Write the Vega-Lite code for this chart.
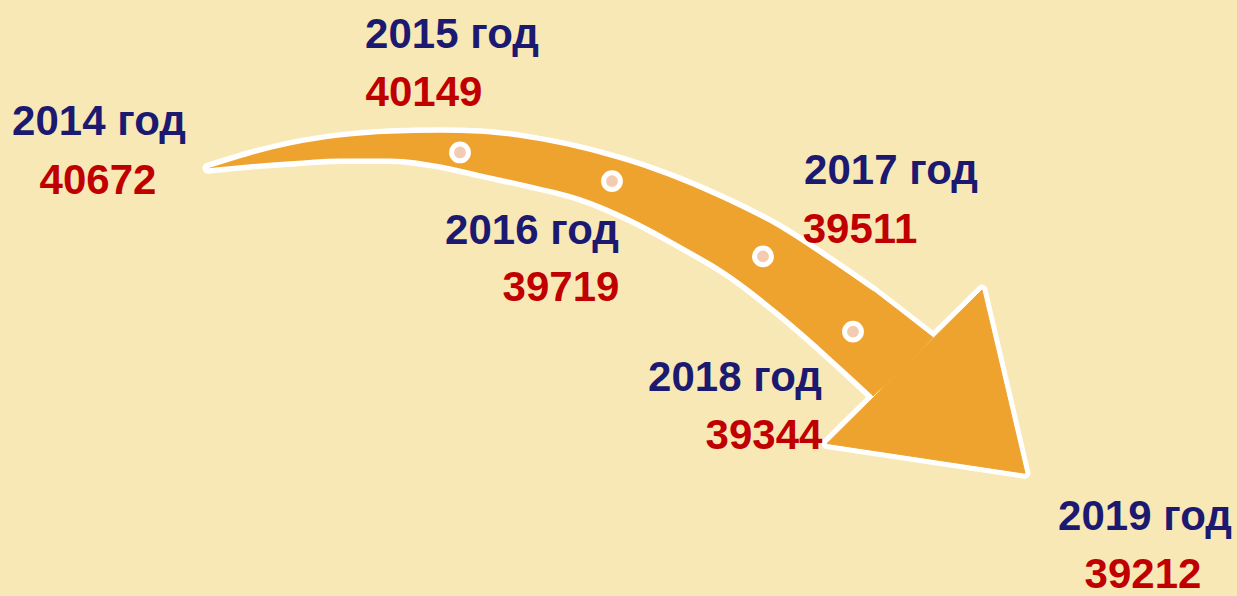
{
  "$schema": "https://vega.github.io/schema/vega-lite/v6.json",
  "width": 1237,
  "height": 596,
  "padding": 0,
  "autosize": {"type": "fit", "contains": "padding"},
  "background": "#f8e8b6",
  "config": {"view": {"stroke": null}},
  "datasets": {
    "labels": [
      {"label": "2014 год", "value": 40672, "lx": 99, "ly": 136, "vx": 98, "vy": 196},
      {"label": "2015 год", "value": 40149, "lx": 452, "ly": 48, "vx": 424, "vy": 107},
      {"label": "2016 год", "value": 39719, "lx": 532, "ly": 246, "vx": 561, "vy": 304},
      {"label": "2017 год", "value": 39511, "lx": 891, "ly": 186, "vx": 860, "vy": 245},
      {"label": "2018 год", "value": 39344, "lx": 735, "ly": 395, "vx": 764, "vy": 454},
      {"label": "2019 год", "value": 39212, "lx": 1145, "ly": 535, "vx": 1143, "vy": 594}
    ],
    "arrow": [
      {"part": "body", "x": 208, "top": 170, "bottom": 170},
      {"part": "body", "x": 250, "top": 157, "bottom": 166},
      {"part": "body", "x": 290, "top": 147, "bottom": 163},
      {"part": "body", "x": 340, "top": 139, "bottom": 160},
      {"part": "body", "x": 390, "top": 135, "bottom": 160},
      {"part": "body", "x": 440, "top": 134, "bottom": 166},
      {"part": "body", "x": 480, "top": 135, "bottom": 175},
      {"part": "body", "x": 530, "top": 141, "bottom": 186},
      {"part": "body", "x": 580, "top": 151, "bottom": 199},
      {"part": "body", "x": 630, "top": 165, "bottom": 220},
      {"part": "body", "x": 680, "top": 183, "bottom": 247},
      {"part": "body", "x": 730, "top": 205, "bottom": 277},
      {"part": "body", "x": 780, "top": 231, "bottom": 316},
      {"part": "body", "x": 830, "top": 264, "bottom": 360},
      {"part": "body", "x": 873, "top": 294, "bottom": 400},
      {"part": "neck", "x": 873, "top": 294, "bottom": 400},
      {"part": "neck", "x": 900, "top": 315, "bottom": 375},
      {"part": "neck", "x": 933, "top": 341, "bottom": 341},
      {"part": "head", "x": 827, "top": 448, "bottom": 448},
      {"part": "head", "x": 982, "top": 293, "bottom": 471.5},
      {"part": "head", "x": 1025, "top": 478, "bottom": 478}
    ],
    "dots": [
      {"year": 2015, "x": 460, "y": 154},
      {"year": 2016, "x": 612, "y": 183},
      {"year": 2017, "x": 763, "y": 259},
      {"year": 2018, "x": 853, "y": 335}
    ]
  },
  "layer": [
    {
      "data": {"name": "arrow"},
      "transform": [{"filter": "datum.part === 'body'"}],
      "mark": {"type": "area", "fill": "#ffffff", "stroke": "#ffffff", "strokeWidth": 11, "strokeJoin": "round", "interpolate": "monotone", "orient": "vertical"},
      "encoding": {
        "x": {"field": "x", "type": "quantitative", "scale": {"domain": [0, 1237], "nice": false, "zero": false}, "axis": null},
        "y": {"field": "top", "type": "quantitative", "scale": {"domain": [0, 596], "reverse": true, "nice": false, "zero": false}, "axis": null},
        "y2": {"field": "bottom"}
      }
    },
    {
      "data": {"name": "arrow"},
      "transform": [{"filter": "datum.part !== 'body'"}],
      "mark": {"type": "area", "fill": "#ffffff", "stroke": "#ffffff", "strokeWidth": 11, "strokeJoin": "round", "orient": "vertical"},
      "encoding": {
        "x": {"field": "x", "type": "quantitative", "scale": {"domain": [0, 1237], "nice": false, "zero": false}, "axis": null},
        "y": {"field": "top", "type": "quantitative", "scale": {"domain": [0, 596], "reverse": true, "nice": false, "zero": false}, "axis": null},
        "y2": {"field": "bottom"},
        "detail": {"field": "part"}
      }
    },
    {
      "data": {"name": "arrow"},
      "transform": [{"filter": "datum.part === 'body'"}],
      "mark": {"type": "area", "fill": "#efa32f", "interpolate": "monotone", "orient": "vertical"},
      "encoding": {
        "x": {"field": "x", "type": "quantitative", "scale": {"domain": [0, 1237], "nice": false, "zero": false}, "axis": null},
        "y": {"field": "top", "type": "quantitative", "scale": {"domain": [0, 596], "reverse": true, "nice": false, "zero": false}, "axis": null},
        "y2": {"field": "bottom"}
      }
    },
    {
      "data": {"name": "arrow"},
      "transform": [{"filter": "datum.part !== 'body'"}],
      "mark": {"type": "area", "fill": "#efa32f", "stroke": "#efa32f", "strokeWidth": 1, "orient": "vertical"},
      "encoding": {
        "x": {"field": "x", "type": "quantitative", "scale": {"domain": [0, 1237], "nice": false, "zero": false}, "axis": null},
        "y": {"field": "top", "type": "quantitative", "scale": {"domain": [0, 596], "reverse": true, "nice": false, "zero": false}, "axis": null},
        "y2": {"field": "bottom"},
        "detail": {"field": "part"}
      }
    },
    {
      "data": {"name": "dots"},
      "mark": {"type": "point", "shape": "circle", "filled": true, "fill": "#f3cbb0", "stroke": "#ffffff", "strokeWidth": 5, "size": 283, "opacity": 1},
      "encoding": {
        "x": {"field": "x", "type": "quantitative", "scale": {"domain": [0, 1237], "nice": false, "zero": false}, "axis": null},
        "y": {"field": "y", "type": "quantitative", "scale": {"domain": [0, 596], "reverse": true, "nice": false, "zero": false}, "axis": null}
      }
    },
    {
      "data": {"name": "labels"},
      "mark": {"type": "text", "font": "Liberation Sans", "fontWeight": "bold", "fontSize": 42, "align": "center", "baseline": "alphabetic", "fill": "#1b1a70"},
      "encoding": {
        "x": {"field": "lx", "type": "quantitative", "scale": {"domain": [0, 1237], "nice": false, "zero": false}, "axis": null},
        "y": {"field": "ly", "type": "quantitative", "scale": {"domain": [0, 596], "reverse": true, "nice": false, "zero": false}, "axis": null},
        "text": {"field": "label", "type": "nominal"}
      }
    },
    {
      "data": {"name": "labels"},
      "mark": {"type": "text", "font": "Liberation Sans", "fontWeight": "bold", "fontSize": 42, "align": "center", "baseline": "alphabetic", "fill": "#c00000"},
      "encoding": {
        "x": {"field": "vx", "type": "quantitative", "scale": {"domain": [0, 1237], "nice": false, "zero": false}, "axis": null},
        "y": {"field": "vy", "type": "quantitative", "scale": {"domain": [0, 596], "reverse": true, "nice": false, "zero": false}, "axis": null},
        "text": {"field": "value", "type": "quantitative", "format": "d"}
      }
    }
  ]
}
